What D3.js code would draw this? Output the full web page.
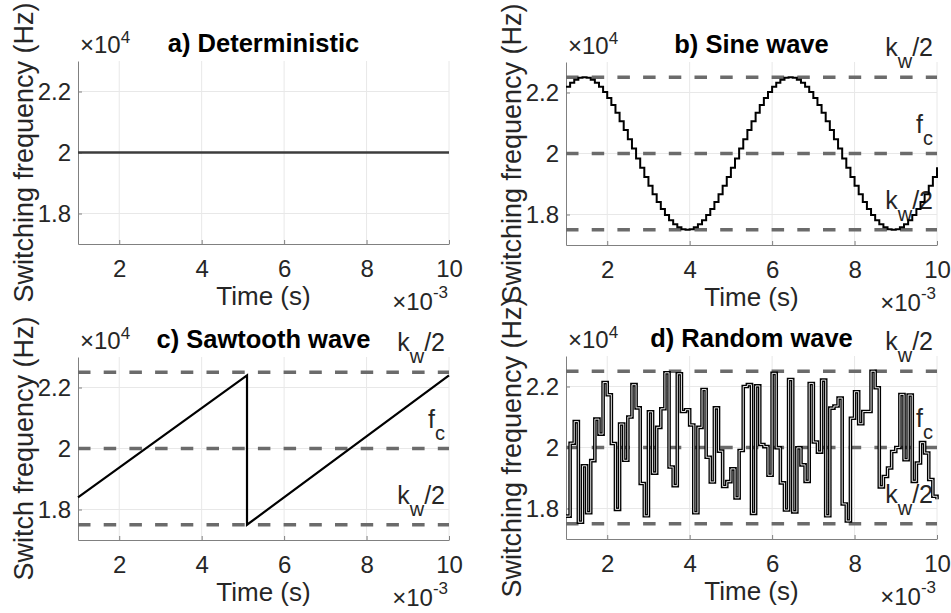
<!DOCTYPE html>
<html>
<head>
<meta charset="utf-8">
<script src="https://cdn.jsdelivr.net/npm/d3@7"></script>
<style>
  body { margin: 0; background: #fff; }
  text { font-family: Arial, "Liberation Sans", Helvetica, sans-serif; }
</style>
</head>
<body>
<div id="vis-holder"></div>
<script>
// Figure size and size of each axes box
const width = 951;
const height = 613;
const plotW = 371;
const plotH = 183;

// Axis ranges and ticks (time in ms, frequency in 10^4 Hz)
const timeRange = [1, 10];
const freqRange = [1.7, 2.3];
const timeTicks = [2, 4, 6, 8, 10];
const freqTicks = [1.8, 2, 2.2];

// Reference levels drawn dashed in panels b-d
const bandLevels = [2.25, 2, 1.75];
const bandLabels = [["k", "w", "/2"], ["f", "c", ""], ["k", "w", "/2"]];

// the stepped signals are held for one sample period
const sampleStart = 1;
const samplePeriod = 0.1;

// a) deterministic
const detTime = [1, 10];
const detFreq = [2, 2];

// b) sine wave, one value per sample (last one is the value at t = 10)
const sineFreq = [
  2.219, 2.232, 2.242, 2.248, 2.250, 2.248, 2.242, 2.232, 2.219, 2.202,
  2.182, 2.159, 2.134, 2.106, 2.077, 2.047, 2.016, 1.984, 1.953, 1.923,
  1.894, 1.866, 1.841, 1.818, 1.798, 1.781, 1.768, 1.758, 1.752, 1.750,
  1.752, 1.758, 1.768, 1.781, 1.798, 1.818, 1.841, 1.866, 1.894, 1.923,
  1.953, 1.984, 2.016, 2.047, 2.077, 2.106, 2.134, 2.159, 2.182, 2.202,
  2.219, 2.232, 2.242, 2.248, 2.250, 2.248, 2.242, 2.232, 2.219, 2.202,
  2.182, 2.159, 2.134, 2.106, 2.077, 2.047, 2.016, 1.984, 1.953, 1.923,
  1.894, 1.866, 1.841, 1.818, 1.798, 1.781, 1.768, 1.758, 1.752, 1.750,
  1.752, 1.758, 1.768, 1.781, 1.798, 1.818, 1.841, 1.866, 1.894, 1.923,
  1.955
];

// c) sawtooth corners
const sawTime = [1, 5.1, 5.1, 10];
const sawFreq = [1.84, 2.24, 1.75, 2.24];

// d) random wave, one value per sample (last one is the value at t = 10)
const randFreq = [
  1.775, 2.014, 2.085, 1.755, 1.940, 1.786, 1.957, 2.093, 2.044, 2.213,
  2.173, 2.013, 1.797, 2.077, 1.958, 2.100, 2.206, 2.130, 1.882, 1.776,
  2.117, 1.916, 2.066, 2.127, 2.245, 1.936, 1.875, 2.242, 2.118, 2.124,
  2.074, 1.786, 2.066, 2.190, 1.968, 1.887, 2.130, 1.988, 1.872, 1.888,
  1.930, 1.835, 1.990, 2.200, 2.206, 1.784, 2.202, 2.010, 2.003, 1.909,
  2.243, 1.999, 1.884, 1.795, 2.223, 1.789, 1.999, 1.943, 1.889, 2.210,
  2.018, 1.985, 2.221, 1.776, 2.129, 2.136, 2.162, 1.815, 1.759, 2.096,
  2.183, 2.078, 2.118, 2.118, 2.250, 2.196, 1.871, 1.905, 1.933, 1.987,
  2.000, 2.174, 1.960, 2.172, 1.889, 1.949, 2.016, 1.982, 1.895, 1.840,
  1.830
];

const panels = [
  { title: "a) Deterministic", ylabel: "Switching frequency (Hz)", left: 78, top: 61, bands: false },
  { title: "b) Sine wave", ylabel: "Switching frequency (Hz)", left: 566, top: 62, bands: true },
  { title: "c) Sawtooth wave", ylabel: "Switch frequency (Hz)", left: 78, top: 357, bands: true },
  { title: "d) Random wave", ylabel: "Switching frequency (Hz)", left: 566, top: 356, bands: true }
];

const svg = d3.select("#vis-holder")
  .append("svg")
  .attr("width", width)
  .attr("height", height)
  .attr("viewBox", [0, 0, width, height]);

const textColor = "#262626";
const axisColor = "#808080";
const gridColor = "#e8e8e8";
const dashColor = "#6b6b6b";

// sample points for a stepped signal
function stepPoints(values) {
  return values.map((v, i) => ({ t: sampleStart + i * samplePeriod, f: v }));
}

function drawPanel(p, i) {
  const g = svg.append("g").attr("transform", `translate(${p.left},${p.top})`);

  const x = d3.scaleLinear().domain(timeRange).range([0, plotW]);
  const y = d3.scaleLinear().domain(freqRange).range([plotH, 0]);

  // grid
  g.append("g").selectAll("line")
    .data(timeTicks).enter().append("line")
    .attr("x1", (d) => x(d)).attr("x2", (d) => x(d))
    .attr("y1", 0).attr("y2", plotH)
    .attr("stroke", gridColor).attr("stroke-width", 1);
  g.append("g").selectAll("line")
    .data(freqTicks).enter().append("line")
    .attr("x1", 0).attr("x2", plotW)
    .attr("y1", (d) => y(d)).attr("y2", (d) => y(d))
    .attr("stroke", gridColor).attr("stroke-width", 1);

  // axes (ticks pointing inwards like matlab)
  const xAxis = g.append("g")
    .attr("transform", `translate(0,${plotH})`)
    .call(d3.axisBottom(x).tickValues(timeTicks).tickFormat(d3.format("~g"))
      .tickSizeInner(-4).tickSizeOuter(0).tickPadding(16))
    .attr("font-size", 24)
    .attr("font-family", null);
  const yAxis = g.append("g")
    .call(d3.axisLeft(y).tickValues(freqTicks).tickFormat(d3.format("~g"))
      .tickSizeInner(-4).tickSizeOuter(0).tickPadding(7))
    .attr("font-size", 24)
    .attr("font-family", null);
  [xAxis, yAxis].forEach((a) => {
    a.select(".domain").attr("stroke", axisColor);
    a.selectAll(".tick line").attr("stroke", axisColor);
    a.selectAll(".tick text").attr("fill", textColor);
  });

  // dashed reference levels with their labels
  if (p.bands) {
    g.append("g").selectAll("line")
      .data(bandLevels).enter().append("line")
      .attr("x1", 0).attr("x2", plotW)
      .attr("y1", (d) => y(d)).attr("y2", (d) => y(d))
      .attr("stroke", dashColor)
      .attr("stroke-width", 3.4)
      .attr("stroke-dasharray", "12.5,13.2");

    bandLevels.forEach((lvl, j) => {
      const lab = bandLabels[j];
      const t = g.append("text")
        .attr("x", plotW - 4)
        .attr("y", y(lvl) - 21)
        .attr("text-anchor", "end")
        .attr("font-size", 25)
        .attr("fill", textColor);
      t.append("tspan").text(lab[0]);
      t.append("tspan").attr("font-size", 20).attr("dy", 12).text(lab[1]);
      if (lab[2]) t.append("tspan").attr("dy", -12).text(lab[2]);
    });
  }

  // signal
  if (i === 0) {
    g.append("path")
      .datum(detTime.map((t, k) => ({ t: t, f: detFreq[k] })))
      .attr("fill", "none")
      .attr("stroke", "#3c3c3c")
      .attr("stroke-width", 2.5)
      .attr("d", d3.line().x((d) => x(d.t)).y((d) => y(d.f)));
  } else if (i === 1) {
    g.append("path")
      .datum(stepPoints(sineFreq))
      .attr("fill", "none")
      .attr("stroke", "#000")
      .attr("stroke-width", 2)
      .attr("d", d3.line().curve(d3.curveStepAfter).x((d) => x(d.t)).y((d) => y(d.f)));
  } else if (i === 2) {
    g.append("path")
      .datum(sawTime.map((t, k) => ({ t: t, f: sawFreq[k] })))
      .attr("fill", "none")
      .attr("stroke", "#000")
      .attr("stroke-width", 2.2)
      .attr("d", d3.line().x((d) => x(d.t)).y((d) => y(d.f)));
  } else {
    const stepLine = d3.line().curve(d3.curveStepAfter).x((d) => x(d.t)).y((d) => y(d.f));
    const pts = stepPoints(randFreq);
    // the random trace shows up as an outlined line
    g.append("path").datum(pts)
      .attr("fill", "none").attr("stroke", "#000").attr("stroke-width", 3.6)
      .attr("d", stepLine);
    g.append("path").datum(pts)
      .attr("fill", "none").attr("stroke", "#fff").attr("stroke-width", 0.9)
      .attr("d", stepLine);
  }

  // title
  g.append("text")
    .attr("x", plotW / 2)
    .attr("y", -9)
    .attr("text-anchor", "middle")
    .attr("font-size", 25.5)
    .attr("font-weight", "bold")
    .attr("fill", "#000")
    .text(p.title);

  // exponent labels
  const e4 = g.append("text")
    .attr("x", 2).attr("y", -8)
    .attr("font-size", 24)
    .attr("fill", textColor);
  e4.append("tspan").text("\u00d710");
  e4.append("tspan").attr("font-size", 17).attr("dy", -10).text("4");

  const e3 = g.append("text")
    .attr("x", plotW - 1).attr("y", plotH + 66)
    .attr("text-anchor", "end")
    .attr("font-size", 24)
    .attr("fill", textColor);
  e3.append("tspan").text("\u00d710");
  e3.append("tspan").attr("font-size", 17).attr("dy", -12).text("-3");

  // axis labels
  g.append("text")
    .attr("x", plotW / 2)
    .attr("y", plotH + 61)
    .attr("text-anchor", "middle")
    .attr("font-size", 26)
    .attr("fill", textColor)
    .text("Time (s)");

  g.append("text")
    .attr("transform", `translate(-45,${plotH / 2}) rotate(-90)`)
    .attr("text-anchor", "middle")
    .attr("font-size", 27)
    .attr("fill", textColor)
    .text(p.ylabel);
}

panels.forEach(drawPanel);
</script>
</body>
</html>
